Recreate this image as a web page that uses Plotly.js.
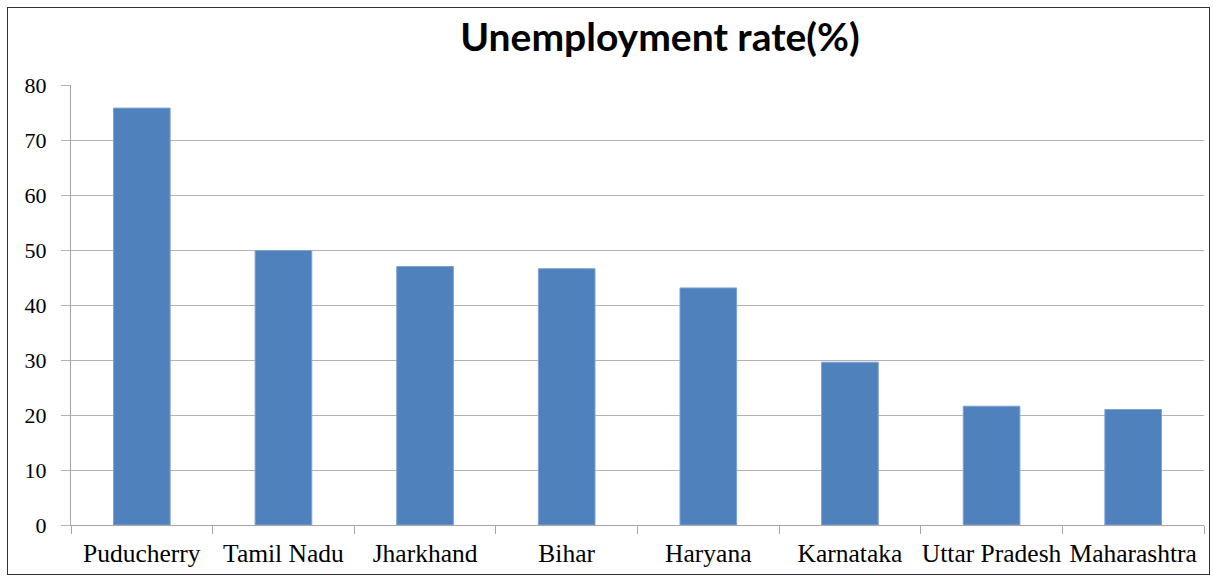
<!DOCTYPE html>
<html>
<head>
<meta charset="utf-8">
<script src="https://cdn.plot.ly/plotly-3.0.1.min.js"></script>
<style>
html,body{margin:0;padding:0;background:#fff;}
#frame{position:absolute;left:7px;top:7px;width:1203px;height:568px;border:1.5px solid #333;box-sizing:border-box;pointer-events:none;z-index:10;}
#chart{width:1213px;height:578px;}
</style>
</head>
<body>
<div id="chart"></div>
<div id="frame"></div>
<script>
const states = ["Puducherry","Tamil Nadu","Jharkhand","Bihar","Haryana","Karnataka","Uttar Pradesh","Maharashtra"];
const rates = [75.8, 49.9, 47.0, 46.6, 43.1, 29.6, 21.6, 21.0];
const yTicks = [0,10,20,30,40,50,60,70,80];

const trace = {
  type: "bar",
  x: states,
  y: rates,
  width: 0.4,
  marker: {color: "#4f81bd", line: {color: "#7ea3d1", width: 1}},
  hoverinfo: "x+y"
};

const layout = {
  width: 1213, height: 578,
  margin: {l: 71, r: 9, t: 85, b: 53},
  paper_bgcolor: "#fff", plot_bgcolor: "#fff",
  showlegend: false,
  title: {
    text: "<b>Unemployment rate(%)</b>",
    font: {family: "Lato, 'Open Sans', sans-serif", size: 39, color: "#000"},
    x: 660/1213, xanchor: "center", xref: "container",
    y: 1 - 37/578, yanchor: "middle", yref: "container"
  },
  xaxis: {
    type: "category",
    showgrid: false,
    showline: true, linecolor: "#a6a6a6", linewidth: 1,
    ticks: "outside", tickson: "boundaries", ticklen: 8, tickcolor: "#a6a6a6",
    tickangle: 0,
    ticklabelstandoff: 5,
    tickfont: {family: "'Liberation Serif', 'Times New Roman', serif", size: 25.5, color: "#000"},
    fixedrange: true
  },
  yaxis: {
    range: [0, 80],
    tickvals: yTicks,
    showgrid: true, gridcolor: "#b3b3b3", gridwidth: 1,
    zeroline: false,
    showline: true, linecolor: "#a6a6a6", linewidth: 1,
    ticks: "outside", ticklen: 9, tickcolor: "#b3b3b3",
    ticklabelstandoff: 10,
    tickfont: {family: "'Liberation Serif', 'Times New Roman', serif", size: 22, color: "#000"},
    fixedrange: true
  },
  bargap: 0.6
};

Plotly.newPlot("chart", [trace], layout, {displayModeBar: false, staticPlot: true});
</script>
</body>
</html>
